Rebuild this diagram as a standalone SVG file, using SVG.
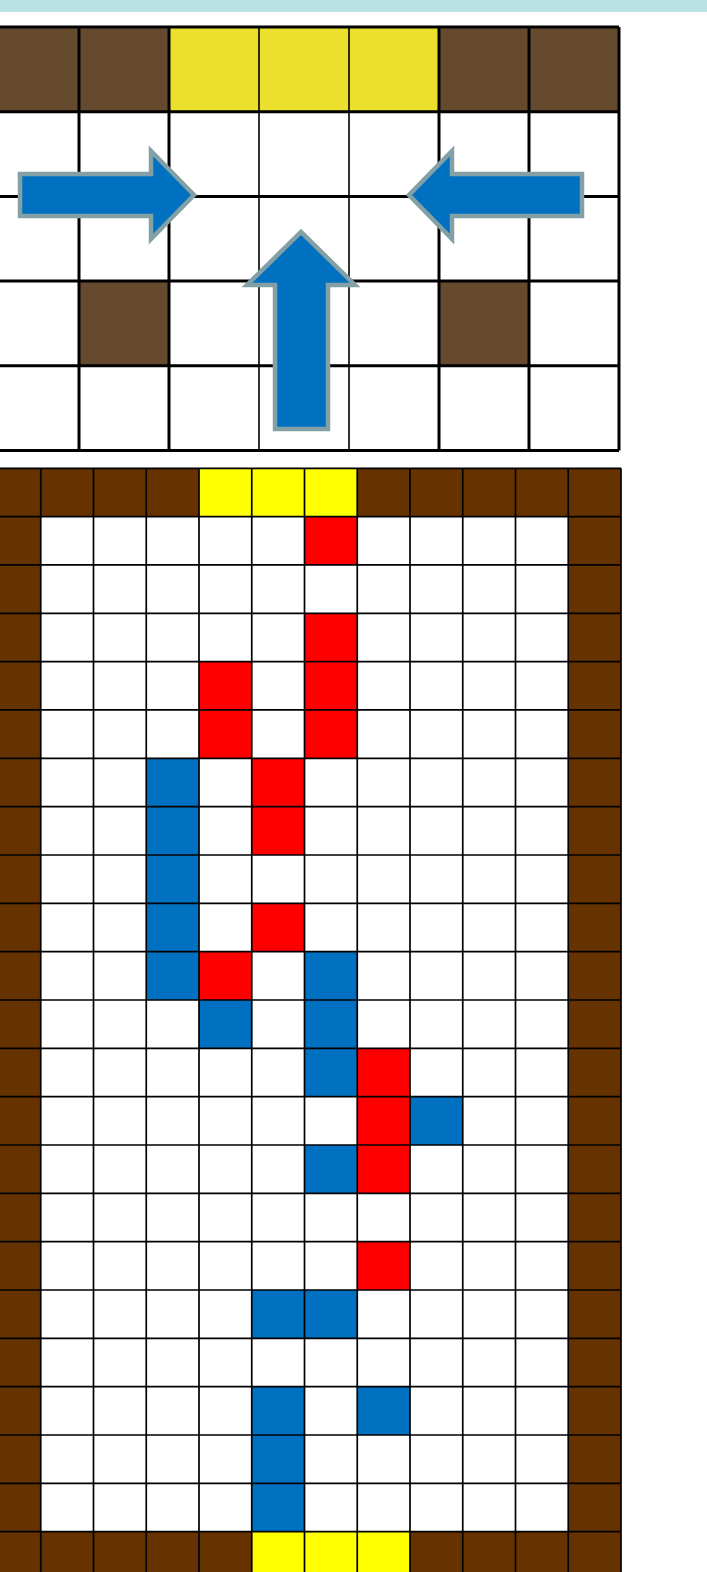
<svg xmlns="http://www.w3.org/2000/svg" width="707" height="1572" viewBox="0 0 707 1572">
<style>
.br{fill:#664a2e}
.ye{fill:#ebe02c}
.br2{fill:#663300}
.ye2{fill:#ffff00}
.rd{fill:#ff0000}
.bl{fill:#0070c0}
.ln{fill:none;stroke:#000;vector-effect:non-scaling-stroke}
.arrow{fill:#0070c0;stroke:#82a0a5;stroke-width:4.5;stroke-linejoin:miter}
</style>
<rect x="0" y="0" width="707" height="1572" fill="#fff"/>
<rect id="topbar" x="0" y="0" width="707" height="12" fill="#b9e0e3"/>

<g id="top-grid" transform="translate(-11,27) scale(90,84.7)">
  <rect x="0" y="0" width="7" height="5" fill="#fff"/>
  <rect class="br" x="0" y="0" width="1" height="1"/>
  <rect class="br" x="1" y="0" width="1" height="1"/>
  <rect class="ye" x="2" y="0" width="3" height="1"/>
  <rect class="br" x="5" y="0" width="1" height="1"/>
  <rect class="br" x="6" y="0" width="1" height="1"/>
  <rect class="br" x="1" y="3" width="1" height="1"/>
  <rect class="br" x="5" y="3" width="1" height="1"/>
  <path class="ln" stroke-width="1.6" d="M3 0V5M4 0V5"/>
  <path class="ln" stroke-width="3" d="M0 0H7M0 1H7M0 2H7M0 3H7M0 4H7M0 5H7M1 0V5M2 0V5M5 0V5M6 0V5M7 0V5"/>
</g>

<g id="arrows">
  <polygon id="arrow-right" class="arrow" points="20,174 151,174 151,151 194,195 151,239 151,216 20,216"/>
  <polygon id="arrow-left" class="arrow" points="582,174 452,174 452,151 409,195 452,239 452,216 582,216"/>
  <polygon id="arrow-up" class="arrow" points="275,429 275,285 247,285 301,232 355,285 328,285 328,429"/>
</g>

<g id="bottom-grid" transform="translate(-12,468.3) scale(52.75,48.335)">
  <rect x="0" y="0" width="12" height="23" fill="#fff"/>
  <rect class="br2" x="0" y="0" width="1" height="23"/>
  <rect class="br2" x="11" y="0" width="1" height="23"/>
  <rect class="br2" x="1" y="0" width="3" height="1"/>
  <rect class="ye2" x="4" y="0" width="3" height="1"/>
  <rect class="br2" x="7" y="0" width="4" height="1"/>
  <rect class="br2" x="1" y="22" width="4" height="1"/>
  <rect class="ye2" x="5" y="22" width="3" height="1"/>
  <rect class="br2" x="8" y="22" width="3" height="1"/>
  <g class="rd">
    <rect x="6" y="1" width="1" height="1"/>
    <rect x="6" y="3" width="1" height="1"/>
    <rect x="4" y="4" width="1" height="1"/>
    <rect x="6" y="4" width="1" height="1"/>
    <rect x="4" y="5" width="1" height="1"/>
    <rect x="6" y="5" width="1" height="1"/>
    <rect x="5" y="6" width="1" height="1"/>
    <rect x="5" y="7" width="1" height="1"/>
    <rect x="5" y="9" width="1" height="1"/>
    <rect x="4" y="10" width="1" height="1"/>
    <rect x="7" y="12" width="1" height="1"/>
    <rect x="7" y="13" width="1" height="1"/>
    <rect x="7" y="14" width="1" height="1"/>
    <rect x="7" y="16" width="1" height="1"/>
  </g>
  <g class="bl">
    <rect x="3" y="6" width="1" height="1"/>
    <rect x="3" y="7" width="1" height="1"/>
    <rect x="3" y="8" width="1" height="1"/>
    <rect x="3" y="9" width="1" height="1"/>
    <rect x="3" y="10" width="1" height="1"/>
    <rect x="6" y="10" width="1" height="1"/>
    <rect x="4" y="11" width="1" height="1"/>
    <rect x="6" y="11" width="1" height="1"/>
    <rect x="6" y="12" width="1" height="1"/>
    <rect x="8" y="13" width="1" height="1"/>
    <rect x="6" y="14" width="1" height="1"/>
    <rect x="5" y="17" width="1" height="1"/>
    <rect x="6" y="17" width="1" height="1"/>
    <rect x="5" y="19" width="1" height="1"/>
    <rect x="7" y="19" width="1" height="1"/>
    <rect x="5" y="20" width="1" height="1"/>
    <rect x="5" y="21" width="1" height="1"/>
  </g>
  <path class="ln" stroke-width="1.7" d="M0 0H12M0 1H12M0 2H12M0 3H12M0 4H12M0 5H12M0 6H12M0 7H12M0 8H12M0 9H12M0 10H12M0 11H12M0 12H12M0 13H12M0 14H12M0 15H12M0 16H12M0 17H12M0 18H12M0 19H12M0 20H12M0 21H12M0 22H12M0 23H12M1 0V23M2 0V23M3 0V23M4 0V23M5 0V23M6 0V23M7 0V23M8 0V23M9 0V23M10 0V23M11 0V23M12 0V23"/>
</g>
</svg>
